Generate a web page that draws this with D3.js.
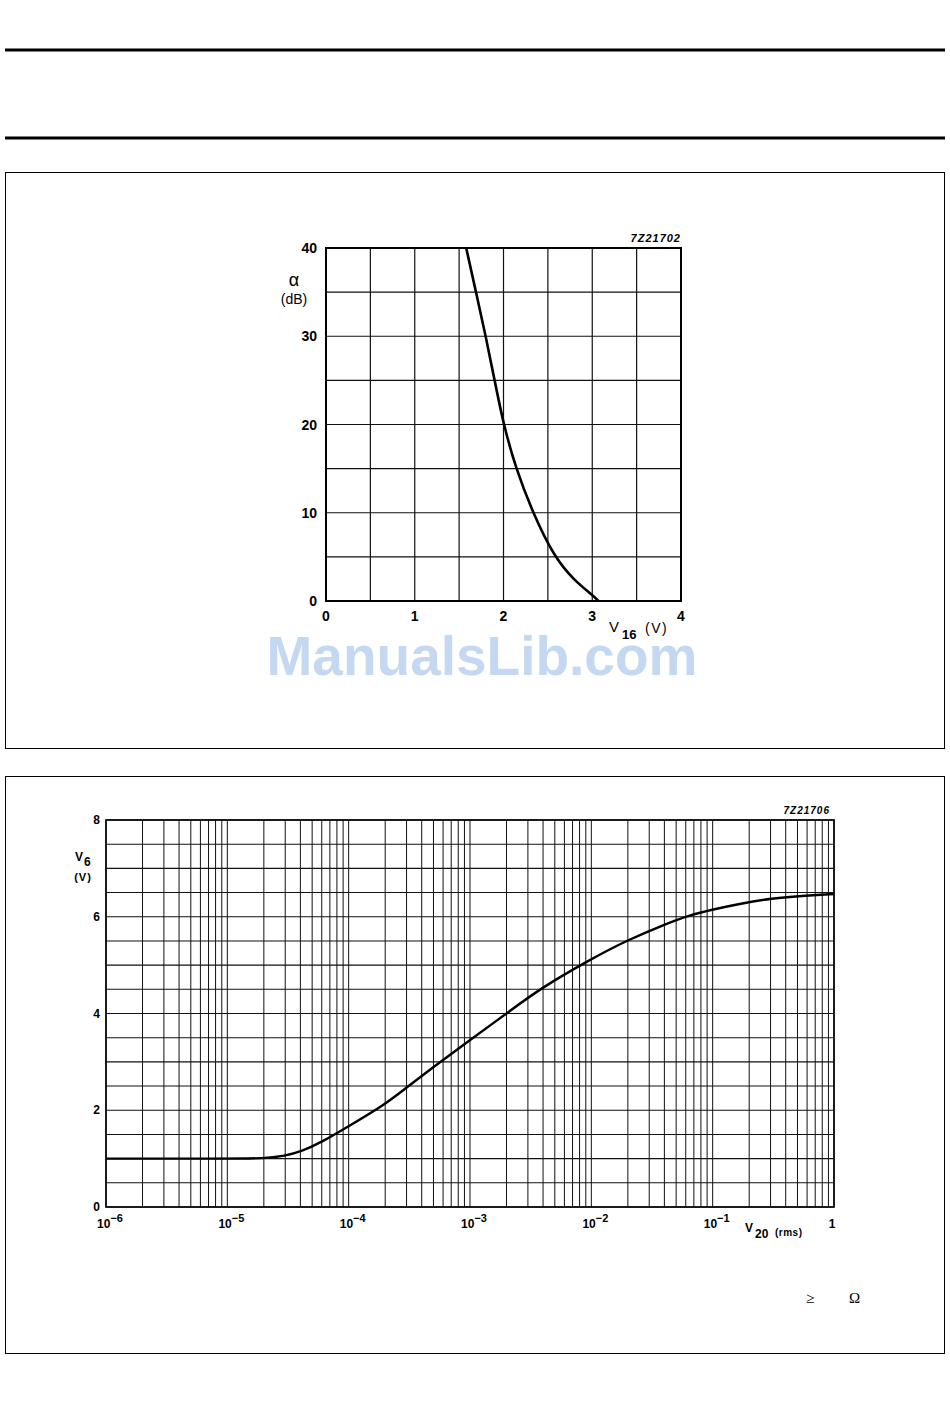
<!DOCTYPE html>
<html><head><meta charset="utf-8">
<script src="https://cdn.jsdelivr.net/npm/d3@7"></script>
<style>
html,body{margin:0;padding:0;background:#fff;}
svg{display:block;}
text{font-family:"Liberation Sans",Arial,Helvetica,sans-serif;fill:#000;}
</style></head>
<body>
<script>
// ---- Chart 1 data: attenuation alpha (dB) vs V16 (V)
const topV = [1.58, 1.69, 1.80, 1.90, 2.00, 2.14, 2.33, 2.57, 2.80, 3.00, 3.07];
const topAlpha = [40, 35, 30, 25, 20, 15, 10, 5, 2.3, 0.7, 0];
const topXTicks = [0, 1, 2, 3, 4];
const topYTicks = [0, 10, 20, 30, 40];

// ---- Chart 2 data: V6 (V) vs V20 (rms)
const botV20 = [1e-6, 1e-5, 2e-5, 3e-5, 4e-5, 6e-5, 1e-4, 2e-4, 3e-4, 5.7e-4, 1e-3, 2e-3, 3.8e-3, 1e-2, 2e-2, 4e-2, 6.4e-2, 1e-1, 1.7e-1, 3e-1, 6e-1, 1];
const botV6 = [1.0, 1.0, 1.0, 1.06, 1.14, 1.34, 1.67, 2.12, 2.47, 3.0, 3.45, 4.0, 4.52, 5.13, 5.52, 5.84, 6.03, 6.15, 6.27, 6.38, 6.44, 6.47];
const botXTickExp = [-6, -5, -4, -3, -2, -1, 0];
const botYTicks = [0, 2, 4, 6, 8];

const W = 950, H = 1418;
const svg = d3.select("body").append("svg").attr("width", W).attr("height", H);

// page rules and frames
svg.append("rect").attr("x", 5).attr("y", 48.5).attr("width", 940).attr("height", 3).attr("fill", "#000");
svg.append("rect").attr("x", 5).attr("y", 136.5).attr("width", 940).attr("height", 3).attr("fill", "#000");
svg.append("rect").attr("x", 5.5).attr("y", 172.5).attr("width", 939).attr("height", 576).attr("fill", "none").attr("stroke", "#000").attr("stroke-width", 1);
svg.append("rect").attr("x", 5.5).attr("y", 776.5).attr("width", 939).attr("height", 577).attr("fill", "none").attr("stroke", "#000").attr("stroke-width", 1);

// ================= Chart 1 =================
{
  const x = d3.scaleLinear().domain([0, 4]).range([326, 681]);
  const y = d3.scaleLinear().domain([0, 40]).range([601, 248]);
  const g = svg.append("g");
  const gx = d3.range(0, 4.01, 0.5), gy = d3.range(0, 40.1, 5);
  g.selectAll(".vx").data(gx).join("line")
    .attr("x1", d => x(d)).attr("x2", d => x(d)).attr("y1", y(0)).attr("y2", y(40))
    .attr("stroke", "#111").attr("stroke-width", 1.2);
  g.selectAll(".hy").data(gy).join("line")
    .attr("x1", x(0)).attr("x2", x(4)).attr("y1", d => y(d)).attr("y2", d => y(d))
    .attr("stroke", "#111").attr("stroke-width", 1.2);
  g.append("rect").attr("x", x(0)).attr("y", y(40)).attr("width", x(4) - x(0)).attr("height", y(0) - y(40))
    .attr("fill", "none").attr("stroke", "#000").attr("stroke-width", 2);
  const line = d3.line().x((d, i) => x(topV[i])).y(d => y(d)).curve(d3.curveBasis);
  g.append("path").datum(topAlpha).attr("d", line).attr("fill", "none").attr("stroke", "#000").attr("stroke-width", 2.6);

  g.selectAll(".yl").data(topYTicks).join("text")
    .attr("x", 317).attr("y", d => y(d) + 5).attr("text-anchor", "end")
    .attr("font-size", 14).attr("font-weight", "bold").text(d => d);
  g.selectAll(".xl").data(topXTicks).join("text")
    .attr("x", d => x(d)).attr("y", 621).attr("text-anchor", "middle")
    .attr("font-size", 14).attr("font-weight", "bold").text(d => d);
  g.append("text").attr("x", 294).attr("y", 286).attr("text-anchor", "middle").attr("font-size", 18).text("α");
  g.append("text").attr("x", 294).attr("y", 304).attr("text-anchor", "middle").attr("font-size", 14).text("(dB)");
  g.append("text").attr("x", 609).attr("y", 632).attr("font-size", 15).text("V");
  g.append("text").attr("x", 622).attr("y", 639).attr("font-size", 13).attr("font-weight", "bold").text("16");
  g.append("text").attr("x", 645).attr("y", 633).attr("font-size", 14).attr("letter-spacing", 1.5).text("(V)");
  g.append("text").attr("x", 681).attr("y", 242).attr("text-anchor", "end").attr("font-size", 11)
    .attr("font-weight", "bold").attr("font-style", "italic").attr("letter-spacing", 1).text("7Z21702");
}

// watermark
svg.append("text").attr("x", 482).attr("y", 675).attr("text-anchor", "middle")
  .attr("font-size", 55).attr("font-weight", "bold").style("fill", "#c4d8f2").text("ManualsLib.com");

// ================= Chart 2 =================
{
  const x = d3.scaleLog().domain([1e-6, 1]).range([106, 834]);
  const y = d3.scaleLinear().domain([0, 8]).range([1207, 820]);
  const g = svg.append("g");
  const gx = [];
  for (let e = -6; e < 0; e++) for (let m = 1; m <= 9; m++) gx.push(m * Math.pow(10, e));
  gx.push(1);
  const gy = d3.range(0, 8.01, 0.5);
  g.selectAll(".vx").data(gx).join("line")
    .attr("x1", d => x(d)).attr("x2", d => x(d)).attr("y1", y(0)).attr("y2", y(8))
    .attr("stroke", "#111").attr("stroke-width", 1);
  g.selectAll(".hy").data(gy).join("line")
    .attr("x1", x(1e-6)).attr("x2", x(1)).attr("y1", d => y(d)).attr("y2", d => y(d))
    .attr("stroke", "#111").attr("stroke-width", 1.1);
  g.append("rect").attr("x", x(1e-6)).attr("y", y(8)).attr("width", x(1) - x(1e-6)).attr("height", y(0) - y(8))
    .attr("fill", "none").attr("stroke", "#000").attr("stroke-width", 1.6);
  const line = d3.line().x((d, i) => x(botV20[i])).y(d => y(d)).curve(d3.curveBasis);
  g.append("path").datum(botV6).attr("d", line).attr("fill", "none").attr("stroke", "#000").attr("stroke-width", 2.4);

  g.selectAll(".yl").data(botYTicks).join("text")
    .attr("x", 100).attr("y", d => y(d) + 4).attr("text-anchor", "end")
    .attr("font-size", 12).attr("font-weight", "bold").text(d => d);
  const xl = g.selectAll(".xl").data(botXTickExp).join("text")
    .attr("x", d => x(Math.pow(10, d)) + (d === 0 ? -2 : 4)).attr("y", 1228).attr("text-anchor", "middle")
    .attr("font-size", 12).attr("font-weight", "bold");
  xl.each(function(d) {
    const t = d3.select(this);
    if (d === 0) { t.text("1"); return; }
    t.append("tspan").text("10");
    t.append("tspan").attr("dy", -6).attr("font-size", 11).text("−" + (-d));
  });
  g.append("text").attr("x", 75).attr("y", 861).attr("font-size", 12).attr("font-weight", "bold").text("V");
  g.append("text").attr("x", 84).attr("y", 866).attr("font-size", 12).attr("font-weight", "bold").text("6");
  g.append("text").attr("x", 83).attr("y", 881).attr("text-anchor", "middle").attr("font-size", 11).attr("font-weight", "bold").attr("letter-spacing", 1).text("(V)");
  g.append("text").attr("x", 745).attr("y", 1232).attr("font-size", 12).attr("font-weight", "bold").text("V");
  g.append("text").attr("x", 755).attr("y", 1238).attr("font-size", 12).attr("font-weight", "bold").text("20");
  g.append("text").attr("x", 775).attr("y", 1236).attr("font-size", 10).attr("font-weight", "bold").attr("letter-spacing", 0.5).text("(rms)");
  g.append("text").attr("x", 830).attr("y", 814).attr("text-anchor", "end").attr("font-size", 10)
    .attr("font-weight", "bold").attr("font-style", "italic").attr("letter-spacing", 1).text("7Z21706");
}

// stray symbols below chart 2
svg.append("text").attr("x", 806).attr("y", 1303).style("font-family", "'Liberation Serif','Times New Roman',serif").attr("font-size", 15).text("≥");
svg.append("text").attr("x", 849).attr("y", 1303).style("font-family", "'Liberation Serif','Times New Roman',serif").attr("font-size", 15).text("Ω");
</script>
</body></html>
